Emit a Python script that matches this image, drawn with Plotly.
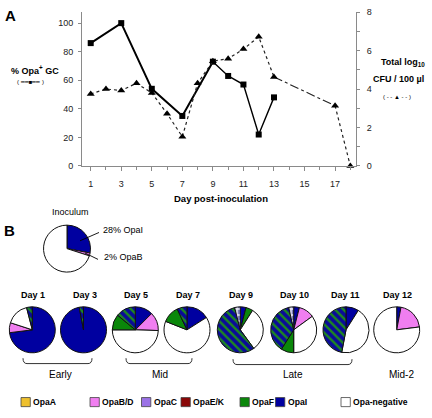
import plotly.graph_objects as go

W, H = 432, 418
FONT = "Liberation Sans, Arial, sans-serif"

# ---------------- Panel A data ----------------
days_opa = [1, 3, 5, 7, 9, 10, 11, 12, 13]
pct_opa = [86, 100, 54, 35, 73, 63, 57, 22, 48]
days_cfu = [1, 2, 3, 4, 5, 6, 7, 8, 9, 10, 11, 12, 13, 17, 18]
log_cfu = [3.75, 4.0, 3.93, 4.3, 3.8, 2.72, 1.52, 4.3, 5.45, 5.58, 6.08, 6.72, 4.63, 3.13, 0.0]
x_tick_days = [1, 3, 5, 7, 9, 11, 13, 15, 17]
left_ticks = [0, 20, 40, 60, 80, 100]
right_ticks = [0, 2, 4, 6, 8]

# ---------------- Panel B data ----------------
inoc_labels = ["OpaI", "OpaB/D", "Opa-negative"]
inoc_pct = [28, 2, 70]
pie_titles = ["Day 1", "Day 3", "Day 5", "Day 7", "Day 9", "Day 10", "Day 11", "Day 12"]
day1_labels = ["OpaI", "OpaB/D", "Opa-negative", "OpaF+OpaI"]
day1_pct = [73, 7, 16, 4]
day3_labels = ["OpaI", "OpaF+OpaI"]
day3_pct = [97, 3]
day5_labels = ["OpaI", "OpaB/D", "Opa-negative", "OpaF", "OpaF+OpaI"]
day5_pct = [12.5, 13, 49.5, 11, 14]
day7_labels = ["OpaI", "Opa-negative", "OpaF", "OpaF+OpaI"]
day7_pct = [16, 65, 12, 7]
day9_labels = ["OpaI", "OpaF", "Opa-negative", "OpaF+OpaI", "OpaC+OpaI"]
day9_pct = [4, 5, 31, 56, 4]
day10_labels = ["OpaI", "OpaB/D", "Opa-negative", "OpaF", "OpaF+OpaI", "OpaC+OpaI"]
day10_pct = [4, 11, 35, 9, 37.5, 3.5]
day11_labels = ["OpaI", "Opa-negative", "OpaF+OpaI"]
day11_pct = [9, 44, 47]
day12_labels = ["OpaI", "OpaB/D", "Opa-negative"]
day12_pct = [3, 20, 77]
phase_names = ["Early", "Mid", "Late", "Mid-2"]
legend_names = ["OpaA", "OpaB/D", "OpaC", "OpaE/K", "OpaF", "OpaI", "Opa-negative"]

COLORS = {
    "OpaA": "#EEC02E",
    "OpaB/D": "#F07EF0",
    "OpaC": "#9B72E6",
    "OpaE/K": "#8A0808",
    "OpaF": "#0A870A",
    "OpaI": "#0000A0",
    "Opa-negative": "#FFFFFF",
    "OpaF+OpaI": "#0000A0",
    "OpaC+OpaI": "#8C8CC8",
}
PATTERN = {
    "OpaF+OpaI": ("\\", "#1E8A1E", "#0A0A9A"),
    "OpaC+OpaI": ("+", "#E8E8F4", "#7C7CBC"),
}


def px(x):
    return x / W


def py(y):
    return 1 - y / H


fig = go.Figure()

# ---------------- Panel A traces ----------------
fig.add_trace(go.Scatter(x=days_opa[:5], y=pct_opa[:5], mode="lines",
                         line=dict(color="black", width=2), yaxis="y", hoverinfo="skip"))
fig.add_trace(go.Scatter(x=days_opa[4:], y=pct_opa[4:], mode="lines",
                         line=dict(color="black", width=1.4), yaxis="y", hoverinfo="skip"))
fig.add_trace(go.Scatter(x=days_opa, y=pct_opa, mode="markers",
                         marker=dict(symbol="square", size=6, color="black"),
                         yaxis="y", cliponaxis=False))

fig.add_trace(go.Scatter(x=days_cfu[:13], y=log_cfu[:13], mode="lines",
                         line=dict(color="#222", width=1.2, dash="dot"), yaxis="y2", hoverinfo="skip"))
fig.add_trace(go.Scatter(x=days_cfu[12:14], y=log_cfu[12:14], mode="lines",
                         line=dict(color="#222", width=1.1, dash="dashdot"), yaxis="y2", hoverinfo="skip"))
fig.add_trace(go.Scatter(x=days_cfu[13:], y=log_cfu[13:], mode="lines",
                         line=dict(color="#222", width=1.2, dash="dot"), yaxis="y2", hoverinfo="skip"))
fig.add_trace(go.Scatter(x=days_cfu, y=log_cfu, mode="markers",
                         marker=dict(symbol="triangle-up", size=7, color="black"),
                         yaxis="y2", cliponaxis=False))


# ---------------- Panel B pies ----------------
def add_pie(labels, values, cx, cy, r):
    pats = [PATTERN.get(l, ("", "#000000", COLORS[l])) for l in labels]
    fig.add_trace(go.Pie(
        labels=labels, values=values, sort=False, direction="clockwise", rotation=0,
        textinfo="none", showlegend=False, hoverinfo="label+value",
        domain=dict(x=[px(cx - r), px(cx + r)], y=[py(cy + r), py(cy - r)]),
        marker=dict(colors=[COLORS[l] for l in labels],
                    line=dict(color="#111", width=1),
                    pattern=dict(shape=[p[0] for p in pats],
                                 fgcolor=[p[1] for p in pats],
                                 bgcolor=[p[2] for p in pats],
                                 size=6, solidity=0.4)),
    ))


add_pie(inoc_labels, inoc_pct, 67, 250, 24)
pie_cx = [32.3, 83.5, 135.3, 187, 240.3, 293.7, 346, 396.7]
pie_data = [(day1_labels, day1_pct), (day3_labels, day3_pct), (day5_labels, day5_pct),
            (day7_labels, day7_pct), (day9_labels, day9_pct), (day10_labels, day10_pct),
            (day11_labels, day11_pct), (day12_labels, day12_pct)]
for (lab, val), cx in zip(pie_data, pie_cx):
    add_pie(lab, val, cx, 333, 23.5)

# ---------------- annotations ----------------
anns = []


def ann(text, x, y, size=9, bold=False, xanchor="center", color="black"):
    if bold:
        text = "<b>" + text + "</b>"
    anns.append(dict(text=text, x=px(x), y=py(y), xref="paper", yref="paper",
                     xanchor=xanchor, yanchor="middle", showarrow=False, borderpad=0,
                     font=dict(family=FONT, size=size, color=color)))


ann("A", 10, 12, 15, True)
ann("B", 9, 231, 15, True)
ann("% Opa<sup>+</sup> GC", 35, 67, 9, True)
ann("( ━━■━━ )", 30, 80, 6)
ann("Total log<sub>10</sub>", 403, 60, 9, True)
ann("CFU / 100 µl", 398, 77, 9, True)
ann("( - - ▲ - - )", 397, 95, 6)
ann("Day post-inoculation", 221, 199, 9.5, True)
ann("Inoculum", 70, 213, 9)
ann("28% OpaI", 102, 231, 9, xanchor="left")
ann("2% OpaB", 103, 259, 9, xanchor="left")

day_label_x = [33, 85, 136, 188, 241, 294.5, 345.5, 397.5]
for t, x in zip(pie_titles, day_label_x):
    ann(t, x, 297, 9, True)

phase_x = [60, 160, 293, 401]
for t, x in zip(phase_names, phase_x):
    ann(t, x, 379, 10)

legend_box_x = [21, 90, 141.5, 181, 240, 275.5, 341]
legend_text_x = [31.5, 101, 152.5, 192, 250.5, 287, 352]
shapes = []
for name, bx, tx in zip(legend_names, legend_box_x, legend_text_x):
    shapes.append(dict(type="rect", xref="paper", yref="paper",
                       x0=px(bx), x1=px(bx + 9.3), y0=py(411.5), y1=py(402.2),
                       fillcolor=COLORS[name], line=dict(color="#444", width=0.8)))
    ann(name, tx, 407, 8.6, True, xanchor="left")

# leader lines for inoculum
shapes.append(dict(type="line", xref="paper", yref="paper", x0=px(80), y0=py(242),
                   x1=px(99), y1=py(233.5), line=dict(color="black", width=0.9)))
shapes.append(dict(type="line", xref="paper", yref="paper", x0=px(85), y0=py(254.5),
                   x1=px(98), y1=py(261), line=dict(color="black", width=0.9)))


def bracket(x0, x1, ytop, ybot, rr=4):
    path = (f"M {px(x0)},{py(ytop)} Q {px(x0)},{py(ybot)} {px(x0 + rr)},{py(ybot)} "
            f"L {px(x1 - rr)},{py(ybot)} Q {px(x1)},{py(ybot)} {px(x1)},{py(ytop)}")
    shapes.append(dict(type="path", xref="paper", yref="paper", path=path,
                       line=dict(color="#333", width=1)))


bracket(23, 92, 362, 367.5)
bracket(126, 192, 362, 367.5)
bracket(233, 352, 363, 368.5)

# ---------------- layout ----------------
axis_common = dict(showgrid=False, zeroline=False, showline=True, linecolor="#8a8a8a",
                   linewidth=1, tickcolor="#8a8a8a", tickfont=dict(family=FONT, size=9, color="#222"))

fig.update_layout(
    width=W, height=H, autosize=False,
    margin=dict(l=0, r=0, t=0, b=0),
    paper_bgcolor="white", plot_bgcolor="white",
    showlegend=False,
    font=dict(family=FONT, size=9, color="black"),
    xaxis=dict(domain=[px(82), px(356)], range=[0.43, 18.37], tickvals=x_tick_days,
               ticks="outside", ticklen=4, ticklabelstandoff=5,
               minor=dict(ticks="outside", ticklen=3, dtick=1, tick0=0, tickcolor="#8a8a8a"),
               anchor="y", **axis_common),
    yaxis=dict(domain=[py(165.5), py(8)], range=[0, 107.9], tickvals=left_ticks,
               ticks="outside", ticklen=3, ticklabelstandoff=3, anchor="x", **axis_common),
    yaxis2=dict(domain=[py(165.5), py(8)], range=[0, 8.02], tickvals=right_ticks,
                overlaying="y", side="right", anchor="x",
                ticks="outside", ticklen=3, ticklabelstandoff=5,
                minor=dict(ticks="outside", ticklen=3, dtick=1, tick0=0, tickcolor="#8a8a8a"),
                **axis_common),
    annotations=anns,
    shapes=shapes,
)

fig.write_html("out.html", config={"displayModeBar": False},
               post_script="document.body.style.margin='0';")
